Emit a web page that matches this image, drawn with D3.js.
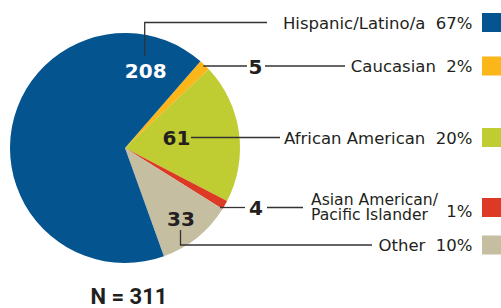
<!DOCTYPE html>
<html>
<head>
<meta charset="utf-8">
<script src="https://cdn.jsdelivr.net/npm/d3@7"></script>
<style>
  html, body { margin: 0; padding: 0; background: #fff; }
  svg { display: block; }
</style>
</head>
<body>
<svg id="vis" width="501" height="308"></svg>
<script>
// data
const groups = ['Caucasian', 'African American', 'Asian American/Pacific Islander', 'Other', 'Hispanic/Latino/a'];
const counts = [5, 61, 4, 33, 208];
const percents = ['2%', '20%', '1%', '10%', '67%'];
const total = 311;

const colors = ['#fbb619', '#bfcc32', '#dc3a24', '#c5bea1', '#03548f'];

// legend rows, in the same order as groups
const labelLines = [['Caucasian'], ['African American'], ['Asian American/', 'Pacific Islander'], ['Other'], ['Hispanic/Latino/a']];
const rowY = [66, 137.5, 207.5, 245, 22.5];

const svg = d3.select('#vis');
const cx = 125, cy = 148, r = 115;
const startA = 41 * Math.PI / 180;

const pie = d3.pie().sort(null).value(d => d)
    .startAngle(startA).endAngle(startA + 2 * Math.PI);
const arcs = pie(counts);
const arc = d3.arc().innerRadius(0).outerRadius(r);

const g = svg.append('g').attr('transform', 'translate(' + cx + ',' + cy + ')');

g.selectAll('path')
    .data(arcs)
    .enter()
    .append('path')
    .attr('d', arc)
    .attr('fill', (d, i) => colors[i]);

const font = '"DejaVu Sans", sans-serif';
const numFont = '"DejaVu Sans", sans-serif';
const ink = '#231f20';
const labelSize = '16.5px';

// legend on the right
const textRight = 472.5;
const sqX = 482, sqSize = 19;

groups.forEach((name, i) => {
    const y = rowY[i];
    svg.append('rect')
        .attr('x', sqX).attr('y', y - sqSize / 2)
        .attr('width', sqSize).attr('height', sqSize)
        .attr('fill', colors[i]);

    const lines = labelLines[i];
    if (lines.length === 1) {
        svg.append('text')
            .attr('x', textRight).attr('y', y + 6.2)
            .attr('text-anchor', 'end')
            .attr('font-family', font).attr('font-size', labelSize)
            .attr('fill', ink)
            .text(lines[0] + '\u00a0\u00a0' + percents[i]);
    } else {
        svg.append('text')
            .attr('x', textRight).attr('y', y + 9)
            .attr('text-anchor', 'end')
            .attr('font-family', font).attr('font-size', labelSize)
            .attr('fill', ink)
            .text(percents[i]);
        svg.append('text')
            .attr('font-family', font).attr('font-size', '15.6px')
            .attr('fill', ink)
            .attr('x', 311).attr('y', y - 2.5)
            .selectAll('tspan').data(lines).enter().append('tspan')
            .attr('x', 311).attr('dy', (d, j) => j === 0 ? 0 : 15)
            .text(d => d);
    }
});

// slice numbers + leader lines
const lineStyle = sel => sel.attr('fill', 'none').attr('stroke', '#333').attr('stroke-width', 1.3);
const numStyle = (sel, fill) => sel.attr('font-family', numFont).attr('font-weight', 700)
    .attr('font-size', '20px').attr('text-anchor', 'middle').attr('fill', fill);

// Hispanic: label inside, line goes up and right
const hispPt = d3.pointRadial(15 * Math.PI / 180, 80);
svg.append('text').call(numStyle, '#fff')
    .attr('x', cx + hispPt[0]).attr('y', cy + hispPt[1] + 7.5)
    .text(counts[4]);
svg.append('path').call(lineStyle)
    .attr('d', d3.line()([[cx + hispPt[0] - 1, cy + hispPt[1] - 15], [cx + hispPt[0] - 1, rowY[4]], [267, rowY[4]]]));

// Caucasian: number outside, line from slice edge
const cauEdge = d3.pointRadial((arcs[0].startAngle + arcs[0].endAngle) / 2, r - 2);
svg.append('path').call(lineStyle)
    .attr('d', d3.line()([[cx + cauEdge[0], rowY[0]], [247, rowY[0]]]));
svg.append('text').call(numStyle, ink)
    .attr('x', 255.5).attr('y', rowY[0] + 7.5).text(counts[0]);
svg.append('path').call(lineStyle)
    .attr('d', d3.line()([[265, rowY[0]], [345, rowY[0]]]));

// African American: number inside
svg.append('text').call(numStyle, ink)
    .attr('x', 176.5).attr('y', rowY[1] + 7.5).text(counts[1]);
svg.append('path').call(lineStyle)
    .attr('d', d3.line()([[191, rowY[1]], [280, rowY[1]]]));

// Asian American: number outside
svg.append('path').call(lineStyle)
    .attr('d', d3.line()([[220, rowY[2]], [245, rowY[2]]]));
svg.append('text').call(numStyle, ink)
    .attr('x', 256).attr('y', rowY[2] + 7.5).text(counts[2]);
svg.append('path').call(lineStyle)
    .attr('d', d3.line()([[267, rowY[2]], [303, rowY[2]]]));

// Other: number inside, line goes down and right
svg.append('text').call(numStyle, ink)
    .attr('x', 181).attr('y', 226).text(counts[3]);
svg.append('path').call(lineStyle)
    .attr('d', d3.line()([[180.5, 230], [180.5, rowY[3]], [372, rowY[3]]]));

// total
svg.append('text').call(numStyle, ink)
    .attr('x', 129).attr('y', 304).attr('font-size', '22px')
    .attr('font-family', 'Roboto, sans-serif')
    .text('N = ' + total);
</script>
</body>
</html>
